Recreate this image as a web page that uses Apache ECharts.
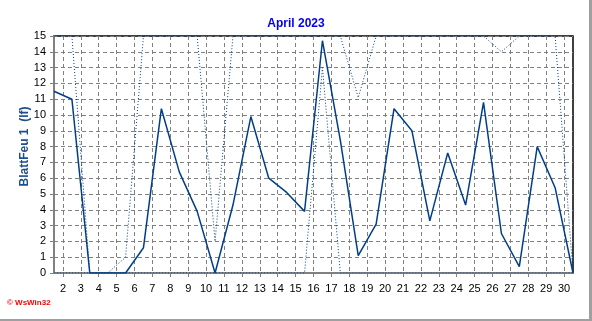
<!DOCTYPE html>
<html><head><meta charset="utf-8">
<script src="https://cdn.jsdelivr.net/npm/echarts@6/dist/echarts.min.js"></script>
<style>html,body{margin:0;padding:0;background:#fff}#c{width:592px;height:321px}</style>
</head><body><div id="c"></div><script>
// x positions: daily values plotted at midday
const dayPositions = [1.5,2.5,3.5,4.5,5.5,6.5,7.5,8.5,9.5,10.5,11.5,12.5,13.5,14.5,15.5,16.5,17.5,18.5,19.5,20.5,21.5,22.5,23.5,24.5,25.5,26.5,27.5,28.5,29.5,30.5];
const dayTicks = [2,3,4,5,6,7,8,9,10,11,12,13,14,15,16,17,18,19,20,21,22,23,24,25,26,27,28,29,30];
const yTicks = [0,1,2,3,4,5,6,7,8,9,10,11,12,13,14,15];
const solidValues = [11.5,11.0,0,0,0,1.6,10.4,6.4,3.9,0,4.3,9.9,6.0,5.1,3.9,14.7,8.4,1.1,3.1,10.4,9.0,3.3,7.6,4.3,10.8,2.5,0.4,8.0,5.4,0];
const dottedUpper = [15,15,0,0,1.0,15,15,15,15,2.0,15,15,15,15,15,15,15,11.1,15,15,15,15,15,15,15,14.0,15,15,15,0];
const dottedLower = [0,0,0,0,0,0,0,0,0,0,0,0,0,0,0,13.0,0,0,0,0,0,0,0,0,0,0,0,0,0,0];
const titleText = 'April 2023';
const yName = 'BlattFeu 1  (lf)';

const pair = arr => dayPositions.map((d,i)=>[d, arr[i]]);
const lineColor = '#003f87';
const chart = echarts.init(document.getElementById('c'), null, {renderer:'canvas'});
chart.setOption({
  backgroundColor:'#fff',
  animation:false,
  title:{text:titleText,left:'center',top:13,textStyle:{color:'#0000ee',fontSize:12,fontWeight:'bold',fontFamily:'Liberation Sans'}},
  grid:{left:54,right:19,top:36,bottom:48,show:true,backgroundColor:'#fff',borderColor:'#000',borderWidth:1.5},
  xAxis:{type:'value',min:1.5,max:30.5,
    axisLine:{show:true,lineStyle:{color:'#808080',width:2}},
    axisTick:{show:true,customValues:dayTicks,length:4,lineStyle:{color:'#808080'}},
    axisLabel:{customValues:dayTicks,color:'#000',fontSize:11,margin:10,fontFamily:'Liberation Sans'},
    splitLine:{show:true,lineStyle:{color:'#808080',type:[4,3],width:1}}
  },
  yAxis:{type:'value',min:0,max:15,interval:1,
    name:yName,nameLocation:'middle',nameGap:23,nameRotate:90,nameMoveOverlap:false,
    nameTextStyle:{color:'#1f4e8c',fontWeight:'bold',fontSize:12,fontFamily:'Liberation Sans',padding:[0,0,0,16]},
    axisLine:{show:true,lineStyle:{color:'#808080',width:2}},
    axisTick:{show:true,length:4,lineStyle:{color:'#808080'}},
    axisLabel:{color:'#000',fontSize:11,margin:8,fontFamily:'Liberation Sans'},
    splitLine:{show:true,lineStyle:{color:'#808080',type:[4,3],width:1}}
  },
  graphic:[
    {type:'text',left:7,top:299,style:{text:'\u00a9 WsWin32',fill:'#ff0000',font:'bold 8px "Liberation Sans"'}},
    {type:'rect',left:0,top:319,shape:{width:592,height:2},style:{fill:'#a0a0a0'}},
    {type:'rect',left:589,top:0,shape:{width:3,height:321},style:{fill:'#a0a0a0'}}
  ],
  series:[
    {type:'line',data:pair(dottedLower),symbol:'none',lineStyle:{color:lineColor,width:1,type:[1,2]},z:3},
    {type:'line',data:pair(dottedUpper),symbol:'none',lineStyle:{color:lineColor,width:1,type:[1,2]},z:3},
    {type:'line',data:pair(solidValues),symbol:'none',lineStyle:{color:lineColor,width:1.5},z:4}
  ]
});
</script></body></html>
